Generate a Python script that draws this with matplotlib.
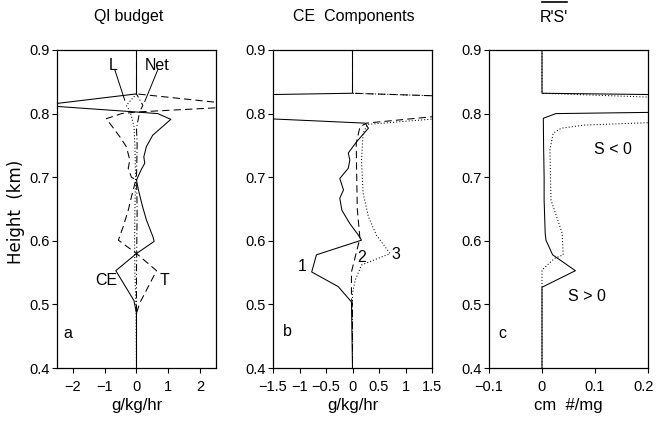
import numpy as np
import matplotlib
matplotlib.use('Agg')
import matplotlib.pyplot as plt
import matplotlib.transforms as mtransforms
from matplotlib.lines import Line2D

plt.rcParams['font.family'] = ['Liberation Sans', 'DejaVu Sans']

# panel a: Ql budget (g/kg/hr)
ce_z = [0.9, 0.831, 0.813, 0.8025, 0.800, 0.791, 0.766, 0.748, 0.732, 0.722, 0.712, 0.700, 0.695,
        0.680, 0.654, 0.633, 0.606, 0.599, 0.580, 0.553, 0.506, 0.486, 0.4]
ce_x = [0, 0, -3.0, 0, 0.67, 1.08, 0.51, 0.31, 0.23, 0.26, 0.15, 0.04, 0,
        0.06, 0.19, 0.31, 0.52, 0.555, 0, -0.65, -0.08, 0, 0]
t_z = [0.9, 0.831, 0.812, 0.8025, 0.800, 0.792, 0.764, 0.748, 0.727, 0.714, 0.700, 0.696,
       0.669, 0.648, 0.622, 0.601, 0.580, 0.553, 0.502, 0.486, 0.4]
t_x = [0, 0, 3.6, 0, -0.47, -0.95, -0.53, -0.32, -0.21, -0.26, -0.16, -0.02,
       -0.16, -0.26, -0.42, -0.57, 0, 0.63, 0.1, 0, 0]
l_z = [0.9, 0.831, 0.813, 0.803, 0.78, 0.75, 0.70, 0.65, 0.60, 0.55, 0.50, 0.4]
l_x = [0, 0, -0.32, -0.2, -0.08, -0.05, -0.03, -0.05, -0.06, -0.05, -0.02, 0]
net_z = [0.9, 0.831, 0.813, 0.803, 0.777, 0.75, 0.70, 0.65, 0.60, 0.55, 0.50, 0.4]
net_x = [0, 0, 0.2, 0.1, 0.0, 0.02, 0.0, 0.02, 0.01, 0.0, 0.0, 0]

# panel b: CE components (g/kg/hr)
c1_z = [0.9, 0.832, 0.82, 0.785, 0.777, 0.756, 0.738, 0.727, 0.714, 0.698, 0.680, 0.667,
        0.648, 0.627, 0.609, 0.601, 0.578, 0.551, 0.528, 0.504, 0.4]
c1_x = [0, 0, -9.0, 0.24, 0.30, 0.08, -0.08, -0.05, -0.08, -0.24, -0.17, -0.24,
        -0.20, -0.05, 0.11, 0.17, -0.68, -0.77, -0.27, -0.02, 0]
c2_z = [0.9, 0.832, 0.82, 0.785, 0.779, 0.753, 0.70, 0.65, 0.604, 0.551, 0.51, 0.50, 0.4]
c2_x = [0, 0, 4.6, 0.26, 0.14, 0.07, 0.08, 0.09, 0.14, -0.02, -0.02, 0, 0]
c3_z = [0.9, 0.832, 0.818, 0.783, 0.769, 0.727, 0.675, 0.638, 0.609, 0.580, 0.562, 0.538, 0.517, 0.4]
c3_x = [0, 0, 5.4, 0.28, 0.2, 0.17, 0.2, 0.3, 0.45, 0.71, 0.17, 0.05, 0, 0]

# panel c: R'S' (cm #/mg)
rs1_z = [0.9, 0.832, 0.8165, 0.800, 0.7926, 0.75, 0.70, 0.664, 0.612, 0.601, 0.578, 0.553, 0.527, 0.4]
rs1_x = [0, 0, 1.55, 0.026, 0.0025, 0.003, 0.004, 0.004, 0.006, 0.0075, 0.02, 0.063, 0, 0]
rs2_z = [0.9, 0.832, 0.806, 0.782, 0.777, 0.769, 0.743, 0.70, 0.664, 0.612, 0.578, 0.572, 0.554, 0.4]
rs2_x = [0, 0, 0.86, 0.08, 0.036, 0.021, 0.015, 0.016, 0.017, 0.038, 0.04, 0.023, 0, 0]

yticks = [0.4, 0.5, 0.6, 0.7, 0.8, 0.9]
lw = 0.75
dash = (0, (7, 4))
dot = (0, (1, 2))
dashdot = (0, (7, 2.5, 1, 2.5))

fig = plt.figure(figsize=(6.56, 4.23), dpi=100)
lefts = [57 / 656, 273 / 656, 489 / 656]
axs = [fig.add_axes([l, 0.130, 159 / 656, 0.7518]) for l in lefts]

for ax in axs:
    ax.set_ylim(0.4, 0.9)
    ax.set_yticks(yticks)
    ax.set_yticklabels(['%.1f' % v for v in yticks])
    ax.tick_params(direction='out', length=3.5, width=0.8, labelsize=10.5, pad=2)
    ax.tick_params(axis='x', pad=5)
    for s in ax.spines.values():
        s.set_linewidth(0.9)

# a
ax = axs[0]
ax.plot(ce_x, ce_z, color='k', lw=lw)
ax.plot(t_x, t_z, color='k', lw=lw, linestyle=dash)
ax.plot(l_x, l_z, color='k', lw=lw, linestyle=dot)
ax.plot(net_x, net_z, color='k', lw=lw, linestyle=dashdot)
ax.set_xlim(-2.5, 2.5)
ax.set_xticks([-2, -1, 0, 1, 2])
ax.set_xlabel('g/kg/hr', fontsize=12, labelpad=3)
ax.text(-0.72, 0.875, 'L', fontsize=11.5, ha='center', va='center')
ax.plot([-0.68, -0.37], [0.8686, 0.821], color='k', lw=0.7)
ax.text(0.64, 0.875, 'Net', fontsize=11.5, ha='center', va='center')
ax.plot([0.67, 0.26], [0.869, 0.819], color='k', lw=0.7)
ax.text(-0.94, 0.538, 'CE', fontsize=11.5, ha='center', va='center')
ax.text(0.89, 0.538, 'T', fontsize=11.5, ha='center', va='center')
ax.text(-2.17, 0.455, 'a', fontsize=11.5, ha='center', va='center')

# b
ax = axs[1]
ax.plot(c1_x, c1_z, color='k', lw=lw)
ax.plot(c2_x, c2_z, color='k', lw=lw, linestyle=dash)
ax.plot(c3_x, c3_z, color='k', lw=lw, linestyle=dot)
ax.set_xlim(-1.5, 1.5)
ax.set_xticks([-1.5, -1, -0.5, 0, 0.5, 1, 1.5])
ax.set_xticklabels(['\u22121.5', '\u22121', '\u22120.5', '0', '0.5', '1', '1.5'])
ax.set_xlabel('g/kg/hr', fontsize=12, labelpad=3)
ax.text(-0.95, 0.559, '1', fontsize=11.5, ha='center', va='center')
ax.text(0.18, 0.573, '2', fontsize=11.5, ha='center', va='center')
ax.text(0.82, 0.578, '3', fontsize=11.5, ha='center', va='center')
ax.text(-1.22, 0.457, 'b', fontsize=11.5, ha='center', va='center')

# c
ax = axs[2]
ax.plot(rs1_x, rs1_z, color='k', lw=lw)
ax.plot(rs2_x, rs2_z, color='k', lw=lw, linestyle=dot)
ax.set_xlim(-0.1, 0.2)
ax.set_xticks([-0.1, 0, 0.1, 0.2])
ax.set_xticklabels(['\u22120.1', '0', '0.1', '0.2'])
ax.set_xlabel('cm  #/mg', fontsize=12, labelpad=3)
ax.text(0.134, 0.743, 'S < 0', fontsize=11.5, ha='center', va='center')
ax.text(0.085, 0.512, 'S > 0', fontsize=11.5, ha='center', va='center')
ax.text(-0.074, 0.455, 'c', fontsize=11.5, ha='center', va='center')
# keep the last tick label inside the figure
last = ax.get_xticklabels()[-1]
last.set_transform(last.get_transform() +
                   mtransforms.ScaledTranslation(-4 / 100, 0, fig.dpi_scale_trans))

# titles and shared y label
fig.text(129 / 656, 1 - 17 / 423, 'Ql budget', fontsize=11.5, ha='center', va='center')
fig.text(354 / 656, 1 - 17 / 423, 'CE  Components', fontsize=11.5, ha='center', va='center')
fig.text(554 / 656, 1 - 17 / 423, "R'S'", fontsize=11.5, ha='center', va='center')
fig.add_artist(Line2D([542 / 656, 567 / 656], [1 - 2.5 / 423, 1 - 2.5 / 423],
                      color='k', lw=1.2, transform=fig.transFigure))
fig.text(16 / 656, 1 - 212 / 423, 'Height  (km)', fontsize=12, rotation=90,
         ha='center', va='center', family='DejaVu Sans')

fig.savefig('out.png', dpi=100)
